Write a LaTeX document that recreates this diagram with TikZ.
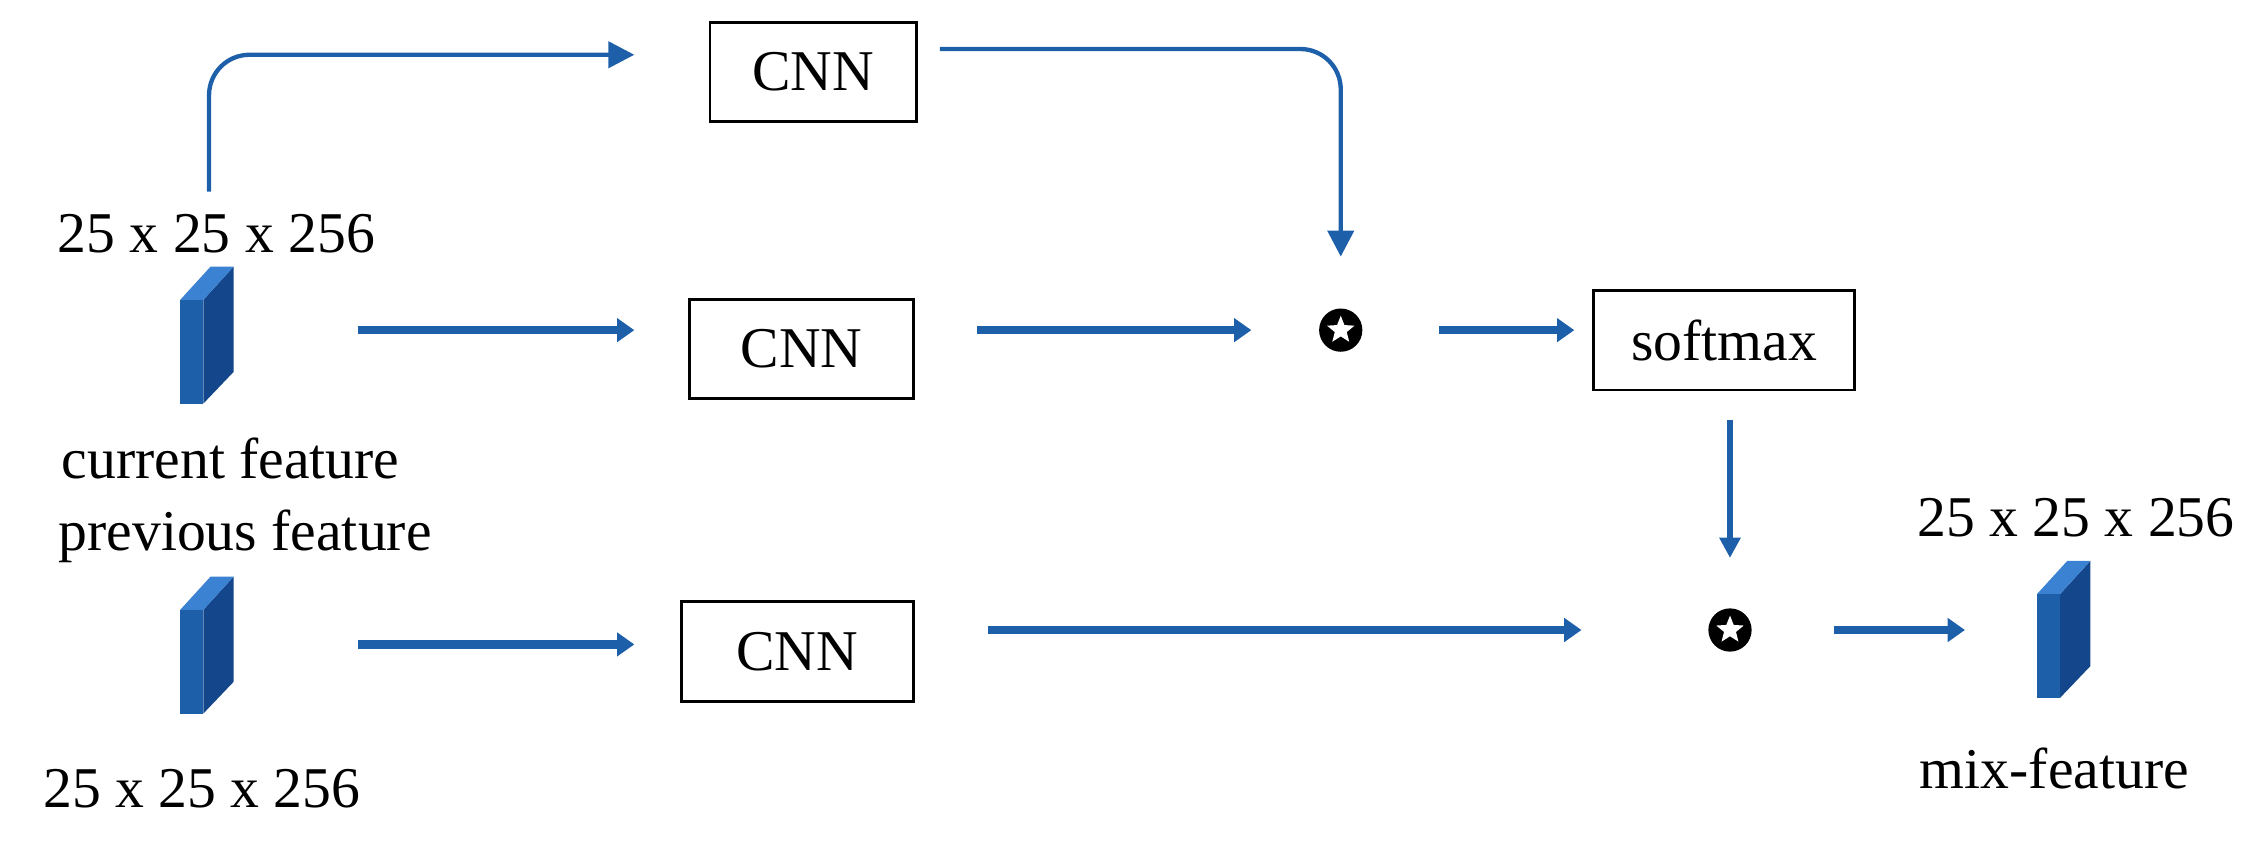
\documentclass[tikz,border=0pt]{standalone}
\usepackage{fontspec}
\setmainfont{Liberation Serif}
\usetikzlibrary{shapes.geometric,arrows.meta}
\definecolor{bl}{RGB}{30,95,170}
\definecolor{bld}{RGB}{20,70,140}
\definecolor{bll}{RGB}{60,130,210}
\begin{document}
\begin{tikzpicture}[x=0.5pt,y=-0.5pt,
  box/.style={draw,line width=1pt,minimum width=#1*0.5pt,minimum height=69*0.5pt,inner sep=0pt,font=\fontsize{20}{24}\selectfont},
  lab/.style={font=\fontsize{20}{24}\selectfont,inner sep=0pt},
  thick arr/.style={bl,line width=3pt,-{Triangle[length=6pt,width=8pt]}},
  thin arr/.style={bl,line width=1.5pt,-{Triangle[length=9pt,width=9pt]},rounded corners=14pt},
  op/.style={circle,fill=black,minimum size=30*0.5pt,inner sep=0pt}]
\useasboundingbox (0,0) rectangle (1560,588);
\newcommand{\cube}[3]{% x, ytop, name
  \fill[bl] (#1,#2+23) rectangle (#1+16,#2+95);
  \fill[bld] (#1+16,#2+23) -- (#1+37,#2) -- (#1+37,#2+73) -- (#1+16,#2+95) -- cycle;
  \fill[bll] (#1,#2+23) -- (#1+21,#2) -- (#1+37,#2) -- (#1+16,#2+23) -- cycle;
  \coordinate (#3) at (#1+18,#2+47);}
\cube{125}{185}{c1}
\cube{125}{400}{c2}
\cube{1413}{389}{c3}
\node[box=143] (cnn1) at (564,50) {CNN};
\node[box=155] (cnn2) at (556,242) {CNN};
\node[box=161] (cnn3) at (553,452) {CNN};
\node[box=181] (sm) at (1196,236) {softmax};
\node[op] (o1) at (930,229) {};
\node[op] (o2) at (1200,437) {};
\node[star,star points=5,star point ratio=2.3,fill=white,minimum size=10pt,inner sep=0pt] at (o1) {};
\node[star,star points=5,star point ratio=2.3,fill=white,minimum size=10pt,inner sep=0pt] at (o2) {};
\node[lab] (t1) at (150,162) {25 x 25 x 256};
\node[lab] at (160,318) {current feature};
\node[lab] at (170,372) {previous feature};
\node[lab] at (140,547) {25 x 25 x 256};
\node[lab] at (1440,359) {25 x 25 x 256};
\node[lab] at (1425,533) {mix-feature};
\coordinate (a0) at (145,133);
\coordinate (a1) at (440,38);
\draw[thin arr] (a0) |- (a1);
\coordinate (b0) at (652,34);
\draw[thin arr] (b0) -| (o1.north |- 0,178);
\draw[thick arr] (248,229) -- (440,229);
\draw[thick arr] (678,229) -- (868,229);
\draw[thick arr] (998,229) -- (1092,229);
\draw[bl,line width=2.2pt,-{Triangle[length=7pt,width=7pt]}] (1200,291) -- (1200,387);
\draw[thick arr] (248,447) -- (440,447);
\draw[thick arr] (685,437) -- (1097,437);
\draw[thick arr] (1272,437) -- (1363,437);
\end{tikzpicture}
\end{document}
